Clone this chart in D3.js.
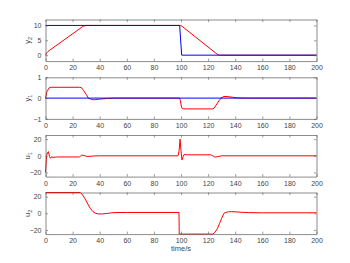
<!DOCTYPE html>
<html><head><meta charset="utf-8">
<script src="https://cdn.jsdelivr.net/npm/d3@7"></script>
<style>body{margin:0;background:#fff}svg{display:block}</style>
</head><body>
<svg id="c" width="350" height="263"></svg>
<script>
// ---- data ----
const xTicks = [0,20,40,60,80,100,120,140,160,180,200];
const y2RefT = [0,99,100.5,200];
const y2RefV = [10,10,0,0];
const y2T = [0,1,2,28,30,99.5,100,127,128.5,130,200];
const y2V = [0,0.8,1.3,9.8,10,10,10,0.2,0,0,0];
const y1RefT = [0,200];
const y1RefV = [0,0];
const y1T = [0,1,2.8,4,25,26.5,28,30,31.6,34,36,40,45,50,98.8,99.5,100.2,100.8,102,123.5,124.5,126,128,129.5,131,132.5,135,138,142,150,200];
const y1V = [0,0.3,0.5,0.52,0.52,0.5,0.38,0.18,0,-0.07,-0.08,-0.05,-0.02,0,0,-0.1,-0.38,-0.5,-0.52,-0.52,-0.48,-0.33,-0.13,0,0.06,0.08,0.07,0.04,0.01,0,0];
const u1T = [0,0.8,1.5,2.1,3,3.7,4.5,5.5,8,25,26.7,28.5,30.5,35,40,97.8,98.6,99.3,100,100.7,101.5,102.2,104,122,123.5,125,127,130,200];
const u1V = [-20,0,4,5,-1,-3,-1,-2,-1.4,-1.4,0.8,0.4,-0.8,-0.3,0,0,6,20,6,-5,-1,1.5,1.2,1.2,0,-1.6,-1,0,0];
const u2T = [0,25.5,27,29,30.8,33,35,37,39,42,46,50,60,98.5,98.7,123.5,125,127,128.5,130,131.7,133,135,137.4,140,145,150,160,200];
const u2V = [25,25,23,18,12.5,6,2,0,-0.8,-0.8,0,0.8,1,1,-25,-25,-23,-18,-12,-6,0,1,1.8,2,1.8,1.2,0.8,0.6,0.6];

const panels = [
  {label:"y", sub:"2", dom:[-2,12], ticks:[0,5,10], top:19.5,
   series:[{t:y2T,v:y2V,c:"#ff0000"},{t:y2RefT,v:y2RefV,c:"#0000ff"}]},
  {label:"y", sub:"1", dom:[-1,1], ticks:[-1,0,1], top:77.3,
   series:[{t:y1T,v:y1V,c:"#ff0000"},{t:y1RefT,v:y1RefV,c:"#0000ff"}]},
  {label:"u", sub:"1", dom:[-25,25], ticks:[-20,0,20], top:135,
   series:[{t:u1T,v:u1V,c:"#ff0000"}]},
  {label:"u", sub:"2", dom:[-25,25], ticks:[-20,0,20], top:192.5,
   series:[{t:u2T,v:u2V,c:"#ff0000"}]}
];
const H = 41.6, L = 45.5, R = 316.5;
const svg = d3.select("#c");
const x = d3.scaleLinear().domain([0,200]).range([L,R]);
const axCol = "#5a5a5a", txtCol = "#444";
const font = "Liberation Sans, Arial, sans-serif";
const fmt = d3.format("d");

panels.forEach(p => {
  const y = d3.scaleLinear().domain(p.dom).range([p.top+H, p.top]);
  const g = svg.append("g");
  p.series.forEach(s => {
    const pts = s.t.map((t,i)=>[t,s.v[i]]);
    g.append("path").datum(pts)
      .attr("fill","none").attr("stroke",s.c).attr("stroke-width",1)
      .attr("d", d3.line().x(d=>x(d[0])).y(d=>y(d[1])));
  });
  const ab = g.append("g").attr("transform",`translate(0,${p.top+H})`)
    .call(d3.axisBottom(x).tickValues(xTicks).tickSizeInner(-2.5).tickSizeOuter(0).tickPadding(4).tickFormat(fmt));
  const at = g.append("g").attr("transform",`translate(0,${p.top})`)
    .call(d3.axisTop(x).tickValues(xTicks).tickSizeInner(-2.5).tickSizeOuter(0).tickFormat(""));
  const al = g.append("g").attr("transform",`translate(${L},0)`)
    .call(d3.axisLeft(y).tickValues(p.ticks).tickSizeInner(-2.5).tickSizeOuter(0).tickPadding(4).tickFormat(fmt));
  const ar = g.append("g").attr("transform",`translate(${R},0)`)
    .call(d3.axisRight(y).tickValues(p.ticks).tickSizeInner(-2.5).tickSizeOuter(0).tickFormat(""));
  [ab,at,al,ar].forEach(a=>{
    a.selectAll("path").attr("stroke",axCol).attr("stroke-width",0.7);
    a.selectAll("line").attr("stroke",axCol).attr("stroke-width",0.6);
    a.selectAll("text").attr("fill",txtCol).style("font-family",font).style("font-size","7px");
  });
  const yl = g.append("text")
    .attr("transform",`translate(30,${p.top+H/2}) rotate(-90)`)
    .attr("text-anchor","middle").attr("fill",txtCol)
    .style("font-family",font).style("font-size","7.5px");
  yl.append("tspan").text(p.label);
  yl.append("tspan").attr("dy",2).style("font-size","5.5px").text(p.sub);
});
svg.append("text").attr("x",(L+R)/2).attr("y",251).attr("text-anchor","middle")
  .attr("fill",txtCol).style("font-family",font).style("font-size","7.5px").text("time/s");
</script>
</body></html>
